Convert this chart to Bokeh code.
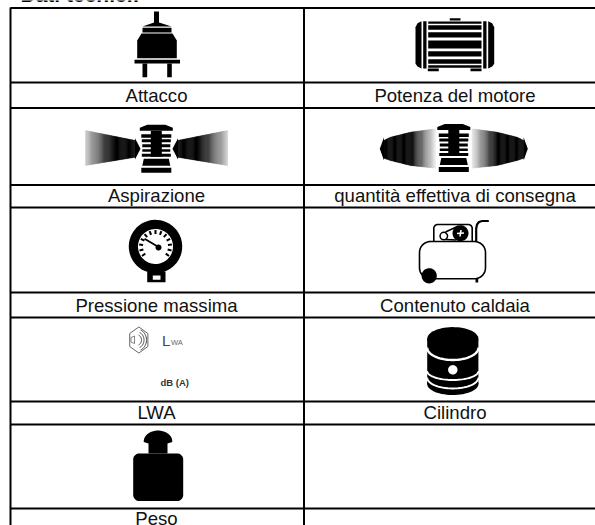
import numpy as np
from bokeh.plotting import figure
from bokeh.embed import file_html
from bokeh.resources import INLINE
from bokeh.core.properties import value

title_text = "Dati tecnici:"
left_labels = ["Attacco", "Aspirazione", "Pressione massima", "LWA", "Peso"]
right_labels = ["Potenza del motore", "quantità effettiva di consegna", "Contenuto caldaia", "Cilindro", ""]
row_lines = [7.5, 82, 107.5, 184.5, 207, 292, 317, 401, 424, 508]
label_baselines = [101.5, 201.5, 311, 418.5, 524.5]
col_lines = [10, 303.5]
col_centres = [156, 454.5]

K = "#000000"
FONT = value("Liberation Sans")
FS = 18.6
LIFT = 0.33  # bokeh's alphabetic text sits lower than its y; share of the font size

p = figure(width=595, height=525, x_range=(0, 595), y_range=(525, 0),
           output_backend="svg", toolbar_location=None, min_border=0,
           margin=(0, 0, 0, 0), outline_line_color=None, background_fill_color="white")
p.axis.visible = False
p.grid.visible = False


def poly(pts, color=K, **kw):
    xs, ys = zip(*pts)
    p.patch(list(xs), list(ys), fill_color=color, line_color=None, **kw)


def box(x0, y0, x1, y1, color=K):
    p.quad(left=x0, right=x1, top=y0, bottom=y1, fill_color=color, line_color=None)


def rrect(x0, y0, x1, y1, r):
    pts = []
    for cx, cy, a0 in [(x1 - r, y0 + r, -90), (x1 - r, y1 - r, 0), (x0 + r, y1 - r, 90), (x0 + r, y0 + r, 180)]:
        for a in np.radians(np.linspace(a0, a0 + 90, 10)):
            pts.append((cx + r * np.cos(a), cy + r * np.sin(a)))
    return pts


def ell(cx, cy, rx, ry, a0=0, a1=360, n=60):
    t = np.radians(np.linspace(a0, a1, n))
    return [(cx + rx * np.cos(a), cy + ry * np.sin(a)) for a in t]


def disc(cx, cy, r, color=K):
    poly(ell(cx, cy, r, r), color)


def label(x, y, txt, size, color=K, style="normal", align="left", font=FONT):
    p.text(x=[x], y=[y - LIFT * size], text=[txt], text_font=font, text_font_size=f"{size}px",
           text_font_style=style, text_color=color, text_baseline="alphabetic", text_align=align)


# grid
for y in row_lines:
    p.line([10, 595], [y, y], line_color=K, line_width=2)
for x in col_lines:
    p.line([x, x], [7, 525], line_color=K, line_width=2)

# labels
label(20, 0.8, title_text, 21, style="bold")
for labels, cx in zip([left_labels, right_labels], col_centres):
    for txt, y in zip(labels, label_baselines):
        if txt:
            label(cx, y, txt, FS, color="#111111", align="center")

# plug
poly([(153.5, 11), (158.5, 11), (158.5, 22), (171, 26), (142, 26), (153.5, 22)])
box(142, 27.3, 171, 32)
poly([(141, 33), (172, 33), (176.3, 40), (176.3, 57.8), (136.7, 57.8), (136.7, 40)])
box(134, 59.3, 179.5, 63)
box(142, 63, 146.7, 76.7)
box(166.7, 63, 171.3, 76.7)

# motor
box(449.3, 17.7, 460, 20)
for y0, y1 in [(21, 23.3), (24.7, 29.3), (31.7, 37), (40, 48), (50.7, 56), (58.7, 63.3), (64.7, 67.3)]:
    box(427.7, y0, 481, y1)
box(427.3, 68, 438.3, 70.7)
box(470, 68, 481, 70.7)
box(422.7, 20.7, 426, 68)
box(482.7, 20.7, 486, 68)
poly([(421, 20.7), (417, 22.7), (415, 26.7), (415, 63.3), (417, 66), (421, 68)])
poly([(487.7, 20.7), (491.7, 22.7), (493.7, 26.7), (493.7, 63.3), (491.7, 66), (487.7, 68)])


def unit(cx, top):
    """Pump block seen from the front: cx is its centre, top its upper edge."""
    poly([(cx - 9, top), (cx + 9, top), (cx + 16.5, top + 3), (cx + 16.5, top + 6), (cx - 16.5, top + 6), (cx - 16.5, top + 3)])
    for d0, d1, hw in [(9.5, 13, 15), (14.5, 17.5, 14.5), (19.5, 22.5, 14), (24.5, 27, 14), (29, 32, 14.5)]:
        box(cx - hw, top + d0, cx + hw, top + d1)
    box(cx - 5.5, top + 6, cx + 5.5, top + 32)
    poly([(cx - 12.5, top + 34), (cx + 12.5, top + 34), (cx + 14, top + 41), (cx - 14, top + 41)])
    box(cx - 15, top + 43, cx + 15, top + 48)


def fade(xs, up, down, x_clear, x_solid, n=46):
    """Sprayed cone: a band between two edges, dark at x_solid and gone at x_clear."""
    grid = np.linspace(min(xs), max(xs), n + 1)
    px, py, cols = [], [], []
    for a, b in zip(grid[:-1], grid[1:]):
        m = (a + b) / 2
        t = float(np.clip((m - x_clear) / (x_solid - x_clear), 0, 1))
        g = int(round(255 * (1 - t)))
        px.append([a, b, b, a])
        py.append([np.interp(a, xs, up), np.interp(b, xs, up), np.interp(b, xs, down), np.interp(a, xs, down)])
        cols.append(f"#{g:02x}{g:02x}{g:02x}")
    p.patches(px, py, fill_color=cols, line_color=cols, line_width=0.4)


# suction
unit(155.8, 124.3)
fade([85, 135], [130, 140], [165, 156.7], 78, 113)
fade([177, 227], [140, 130], [156.7, 165], 234, 199)
poly([(134.5, 137.7), (140, 148.3), (134.5, 159)])
poly([(172, 148.3), (177.5, 137.7), (177.5, 159)])

# delivery
unit(453.3, 123.5)
fade([383.3, 390, 410, 435], [140, 136.7, 131.7, 128.3], [157.7, 160, 165, 167.7], 437, 410)
fade([471.6, 496.6, 516.6, 523.3], [128.3, 131.7, 136.7, 140], [167.7, 165, 160, 157.7], 469.6, 496.6)
poly([(379.3, 148.3), (383.5, 136.7), (383.5, 160)])
poly([(527.3, 148.3), (523.1, 136.7), (523.1, 160)])

# gauge
poly(ell(155, 246, 26.7, 26.7))
disc(155, 246, 17.5, "white")
for a in np.radians(np.linspace(-215, 35, 13)):
    p.line([155 + 12.5 * np.cos(a), 155 + 16.5 * np.cos(a)], [246 + 12.5 * np.sin(a), 246 + 16.5 * np.sin(a)],
           line_color=K, line_width=2)
p.line([144, 158], [238.3, 246.5], line_color=K, line_width=1.8)
disc(158, 247, 3)
box(146.7, 271, 165, 281.7)
box(152.3, 275, 160, 279.3, "white")

# compressor
hd = rrect(433.3, 224, 471.7, 245, 4)
p.patch([q[0] for q in hd], [q[1] for q in hd], fill_color="white", line_color=K, line_width=1.6)
p.line([475.7, 475.7, 476.5, 478.5, 481.7, 488.3], [241, 228, 224, 221.5, 220.5, 220.5], line_color=K, line_width=2.2)
tk = rrect(419, 241, 485, 278.3, 11)
p.patch([q[0] for q in tk], [q[1] for q in tk], fill_color="white", line_color=K, line_width=1.6)
box(475, 278, 477.7, 282)
disc(428.7, 275.3, 7.6)
p.line([445, 458], [231.5, 225.5], line_color=K, line_width=1.6)
p.line([445, 456], [239, 239.5], line_color=K, line_width=1.6)
disc(460, 232.7, 8)
p.line([456.5, 463.5], [233, 232.5], line_color="white", line_width=1.6)
p.line([460.5, 459.5], [229.5, 236], line_color="white", line_width=1.6)
p.scatter([443.3], [235.6], size=7.5, marker="circle", fill_color="white", line_color=K, line_width=1.5)

# sound power
GR = "#666666"
hex_pts = [(138.3 + 10.5 * np.cos(np.radians(a)), 339.5 + 13 * np.sin(np.radians(a))) for a in [-90, -30, 30, 90, 150, 210, -90]]
p.line([q[0] for q in hex_pts], [q[1] for q in hex_pts], line_color=GR, line_width=1)
for rx in [5, 7.5, 10]:
    arc = ell(136, 339.5, rx, rx * 1.1, -65, 65, 20)
    p.line([q[0] for q in arc], [q[1] for q in arc], line_color="#444444", line_width=1)
p.line([130.5, 134, 134, 130.5, 130.5], [337, 335.5, 343, 341.5, 337], line_color=GR, line_width=0.8)
label(161.5, 344.5, "L", 15, color="#444444")
label(170.5, 344.5, "WA", 7.5, color="#666666")
label(160, 385.5, "dB (A)", 9.5, color="#333333", style="bold")

# weight
poly(ell(157.5, 441, 14.3, 11, 180, 360, 24) + [(171.8, 441.5), (167, 443), (167, 453), (148, 453), (148, 443), (143.2, 441.5)])
poly(rrect(132.7, 453, 182.7, 500.5, 6))

# cylinder
side = [(426.7, 338.5), (477.9, 338.5), (477.9, 384), (426.7, 384)]
poly(side)
poly(ell(452.3, 338.3, 25.6, 11.7))
poly(ell(452.3, 383.5, 25.6, 11))
for cy, ry, w in [(347, 12.5, 2.4), (370.5, 9, 1.9), (377, 11, 1.9)]:
    arc = ell(452.3, cy, 25.7, ry, 0, 180, 40)
    p.line([q[0] for q in arc], [q[1] for q in arc], line_color="white", line_width=w)
disc(452.3, 369.3, 4.7, "white")

open("out.html", "w").write(file_html(p, INLINE))
